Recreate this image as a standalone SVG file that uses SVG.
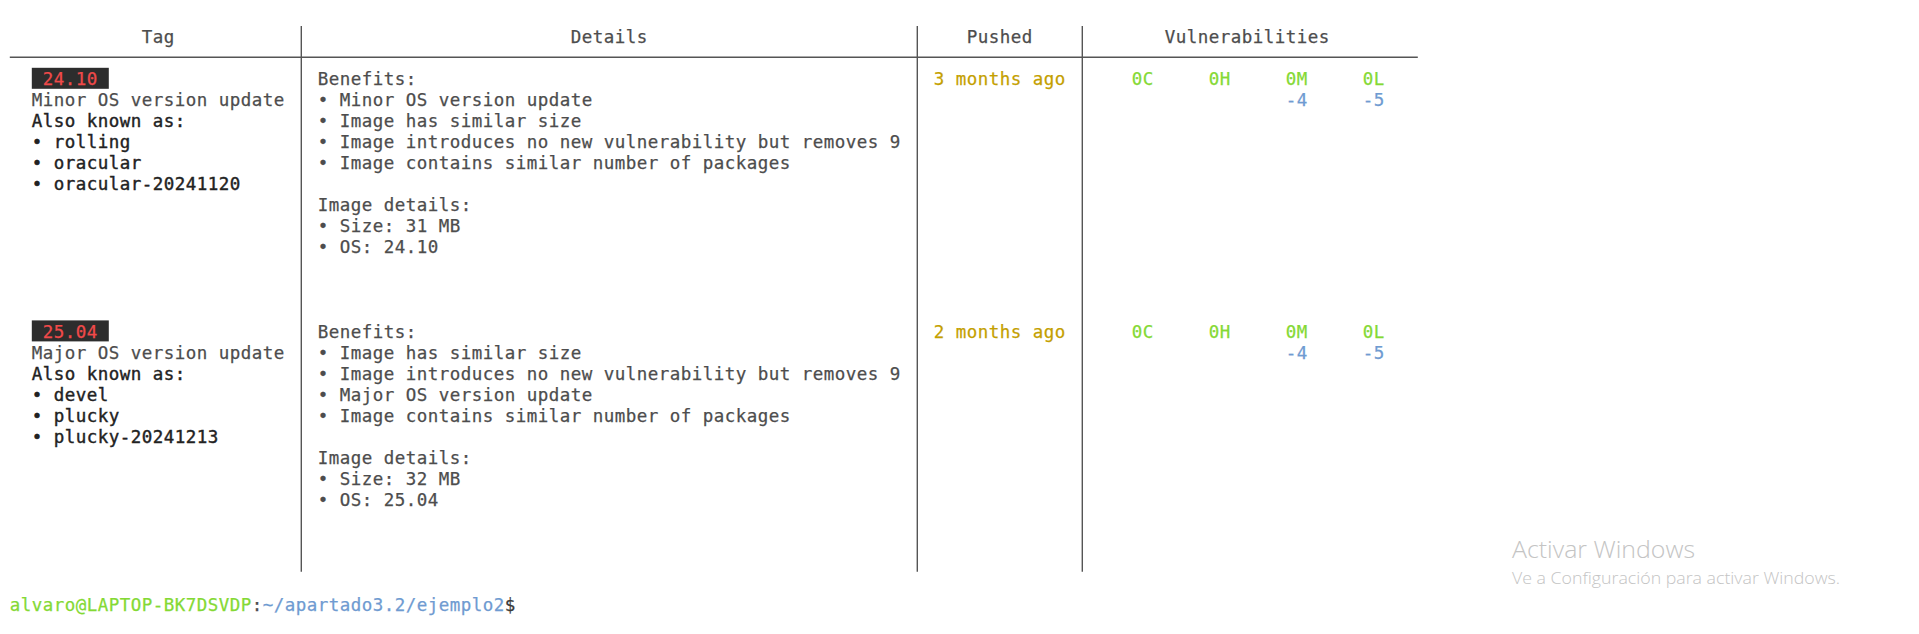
<svg xmlns="http://www.w3.org/2000/svg" width="1919" height="634" viewBox="0 0 1919 634">
  <style>
    .t { font-family: "DejaVu Sans Mono", "Liberation Mono", monospace; font-size: 17.5px; letter-spacing: 0.464px; fill: #4d4d4d; stroke: #4d4d4d; stroke-width: 0.25px; }
    .b { fill: #222222; stroke: #222222; stroke-width: 0.4px; }
    .tag { fill: #f04a4a; stroke: #f04a4a; }
    .ylw { fill: #c4a000; stroke: #c4a000; }
    .grn { fill: #84d934; stroke: #84d934; }
    .blu { fill: #6f9bd1; stroke: #6f9bd1; }
    .dk { fill: #3a3a3a; stroke: #3a3a3a; }
    .badge { fill: #2d2d2d; stroke: none; }
    .grid line { stroke: #555555; stroke-width: 1.4; }
    .wm { font-family: "Open Sans", "Liberation Sans", sans-serif; font-weight: 300; fill: #c4c4c4; }
  </style>
  <rect width="1919" height="634" fill="#ffffff"/>

  <g id="grid" class="grid">
    <line x1="9.8" y1="57.3" x2="1417.8" y2="57.3"/>
    <line x1="301.3" y1="26" x2="301.3" y2="571.7"/>
    <line x1="917.3" y1="26" x2="917.3" y2="571.7"/>
    <line x1="1082.3" y1="26" x2="1082.3" y2="571.7"/>
  </g>

  <g id="header" class="t">
    <text x="141.8" y="42.9">Tag</text>
    <text x="570.8" y="42.9">Details</text>
    <text x="966.8" y="42.9">Pushed</text>
    <text x="1164.8" y="42.9">Vulnerabilities</text>
  </g>

  <g id="row-24-10">
    <g id="tag-24-10" class="t">
      <rect class="badge" x="31.8" y="67.8" width="77" height="21"/>
      <text class="tag" x="42.8" y="85">24.10</text>
      <text x="31.8" y="106.05">Minor OS version update</text>
      <text class="b" x="31.8" y="127.1">Also known as:</text>
      <text class="b" x="31.8" y="148.15">• rolling</text>
      <text class="b" x="31.8" y="169.2">• oracular</text>
      <text class="b" x="31.8" y="190.25">• oracular-20241120</text>
    </g>
    <g id="details-24-10" class="t">
      <text x="317.8" y="85">Benefits:</text>
      <text x="317.8" y="106.05">• Minor OS version update</text>
      <text x="317.8" y="127.1">• Image has similar size</text>
      <text x="317.8" y="148.15">• Image introduces no new vulnerability but removes 9</text>
      <text x="317.8" y="169.2">• Image contains similar number of packages</text>
      <text x="317.8" y="211.3">Image details:</text>
      <text x="317.8" y="232.35">• Size: 31 MB</text>
      <text x="317.8" y="253.4">• OS: 24.10</text>
    </g>
    <g id="pushed-24-10" class="t">
      <text class="ylw" x="933.8" y="85">3 months ago</text>
    </g>
    <g id="vulns-24-10" class="t">
      <text class="grn" x="1131.8" y="85">0C</text>
      <text class="grn" x="1208.8" y="85">0H</text>
      <text class="grn" x="1285.8" y="85">0M</text>
      <text class="grn" x="1362.8" y="85">0L</text>
      <text class="blu" x="1285.8" y="106.05">-4</text>
      <text class="blu" x="1362.8" y="106.05">-5</text>
    </g>
  </g>

  <g id="row-25-04">
    <g id="tag-25-04" class="t">
      <rect class="badge" x="31.8" y="320.4" width="77" height="21"/>
      <text class="tag" x="42.8" y="337.6">25.04</text>
      <text x="31.8" y="358.65">Major OS version update</text>
      <text class="b" x="31.8" y="379.7">Also known as:</text>
      <text class="b" x="31.8" y="400.75">• devel</text>
      <text class="b" x="31.8" y="421.8">• plucky</text>
      <text class="b" x="31.8" y="442.85">• plucky-20241213</text>
    </g>
    <g id="details-25-04" class="t">
      <text x="317.8" y="337.6">Benefits:</text>
      <text x="317.8" y="358.65">• Image has similar size</text>
      <text x="317.8" y="379.7">• Image introduces no new vulnerability but removes 9</text>
      <text x="317.8" y="400.75">• Major OS version update</text>
      <text x="317.8" y="421.8">• Image contains similar number of packages</text>
      <text x="317.8" y="463.9">Image details:</text>
      <text x="317.8" y="484.95">• Size: 32 MB</text>
      <text x="317.8" y="506">• OS: 25.04</text>
    </g>
    <g id="pushed-25-04" class="t">
      <text class="ylw" x="933.8" y="337.6">2 months ago</text>
    </g>
    <g id="vulns-25-04" class="t">
      <text class="grn" x="1131.8" y="337.6">0C</text>
      <text class="grn" x="1208.8" y="337.6">0H</text>
      <text class="grn" x="1285.8" y="337.6">0M</text>
      <text class="grn" x="1362.8" y="337.6">0L</text>
      <text class="blu" x="1285.8" y="358.65">-4</text>
      <text class="blu" x="1362.8" y="358.65">-5</text>
    </g>
  </g>

  <g id="prompt" class="t">
    <text x="9.8" y="611"><tspan class="grn">alvaro@LAPTOP-BK7DSVDP</tspan><tspan>:</tspan><tspan class="blu">~/apartado3.2/ejemplo2</tspan><tspan class="dk">$</tspan></text>
  </g>

  <g id="watermark">
    <text class="wm" x="1512" y="558" font-size="23" textLength="183" lengthAdjust="spacingAndGlyphs">Activar Windows</text>
    <text class="wm" x="1512" y="584" font-size="16" textLength="328" lengthAdjust="spacingAndGlyphs">Ve a Configuración para activar Windows.</text>
  </g>
</svg>
